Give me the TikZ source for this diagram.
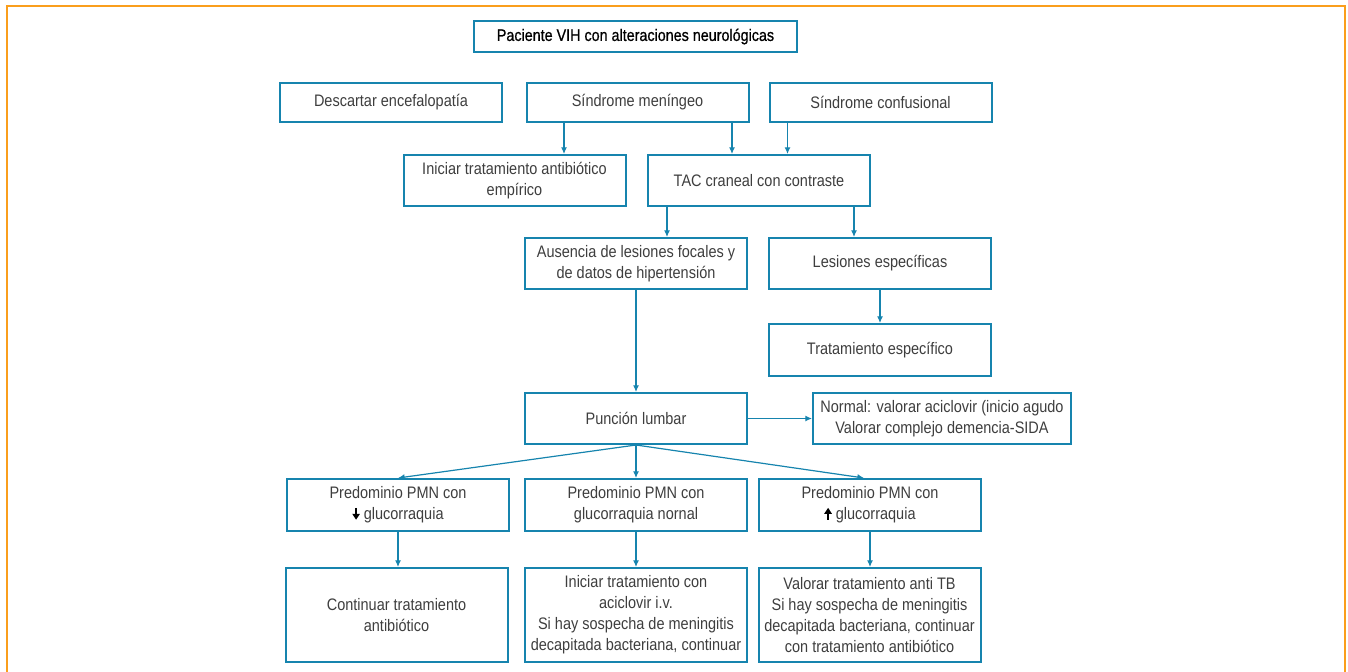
\documentclass[tikz,border=0pt]{standalone}
\usepackage{fontspec}
\setmainfont{Liberation Sans}[FakeStretch=0.87]
\newfontfamily\titfont{Liberation Sans}[FakeStretch=0.86,FakeBold=0.8]
\usepackage{xcolor}
\usepackage{tikz}
\usetikzlibrary{arrows.meta, calc}
\definecolor{marco}{RGB}{250,158,28}
\definecolor{azul}{RGB}{22,132,174}
\definecolor{texto}{RGB}{62,62,62}
\newcommand{\pxu}{0.75pt}
\newcommand{\bajaflecha}{\tikz[baseline=0pt]\draw[black, line width=1.1pt, -{Triangle[length=4.5pt,width=5.5pt]}] (0pt,9pt) -- (0pt,0pt);}
\newcommand{\subeflecha}{\tikz[baseline=0pt]\draw[black, line width=1.1pt, -{Triangle[length=4.5pt,width=5.5pt]}] (0pt,0pt) -- (0pt,9pt);}
\tikzstyle{caja} = [rectangle, draw=azul, line width=1.5pt, minimum width=222*\pxu, minimum height=51*\pxu, inner sep=0pt, align=center, text=texto, font=\fontsize{12.5}{15.7}\selectfont]
\tikzstyle{flecha} = [draw=azul, line width=0.9pt, -{Latex[length=5pt,width=4.5pt]}]

\begin{document}
\begin{tikzpicture}[x=0.75pt, y=-0.75pt]

    \useasboundingbox (0,0) rectangle (1348,671);
    \draw[marco, line width=2pt] (7,680) -- (7,6) -- (1345,6) -- (1345,680);

    % ===============================
    % 1. NODES
    % ===============================

    % Title
    \node[caja, text=black, minimum width=323*\pxu, minimum height=31*\pxu, font=\titfont\fontsize{12.5}{15.7}\selectfont] (tit) at (635.5, 36.5) {Paciente VIH con alteraciones neurológicas};

    % First row
    \node[caja, minimum height=39*\pxu] (desc) at (391, 102.5) {Descartar encefalopatía};
    \node[caja, minimum height=39*\pxu] (men) at (637.5, 102.5) {Síndrome meníngeo};
    \node[caja, minimum height=39*\pxu] (conf) at (880.5, 102.5) {Síndrome confusional};

    % Second row
    \node[caja] (iniab) at (514.5, 180.5) {Iniciar tratamiento antibiótico\\empírico};
    \node[caja] (tac) at (759, 180.5) {TAC craneal con contraste};

    % TAC results
    \node[caja] (aus) at (636, 263.5) {Ausencia de lesiones focales y\\de datos de hipertensión};
    \node[caja] (les) at (880, 263.5) {Lesiones específicas};
    \node[caja, minimum height=52*\pxu] (tesp) at (880, 350) {Tratamiento específico};

    % Lumbar puncture
    \node[caja] (pl) at (636, 418.5) {Punción lumbar};
    \node[caja, minimum width=258*\pxu] (norm) at (942, 418.5) {Normal: valorar aciclovir (inicio agudo\\Valorar complejo demencia-SIDA};

    % -------------------------------
    % PMN BRANCHES
    % -------------------------------
    \node[caja, minimum height=52*\pxu] (pmn1) at (398, 505) {Predominio PMN con\\\bajaflecha{} glucorraquia};
    \node[caja, minimum height=52*\pxu] (pmn2) at (636, 505) {Predominio PMN con\\glucorraquia nornal};
    \node[caja, minimum height=52*\pxu] (pmn3) at (870, 505) {Predominio PMN con\\\subeflecha{} glucorraquia};

    % -------------------------------
    % LEAF NODES (Bottom)
    % -------------------------------
    \node[caja, minimum height=94*\pxu] (cont) at (396.5, 615) {Continuar tratamiento\\antibiótico};
    \node[caja, minimum height=94*\pxu] (acic) at (636, 615) {Iniciar tratamiento con\\aciclovir i.v.\\Si hay sospecha de meningitis\\decapitada bacteriana, continuar};
    \node[caja, minimum height=94*\pxu] (antb) at (869.5, 615) {Valorar tratamiento anti TB\\Si hay sospecha de meningitis\\decapitada bacteriana, continuar\\con tratamiento antibiótico};

    % ===============================
    % 2. CONNECTIONS
    % ===============================

    % Syndromes to second row
    \draw[flecha] ($(men.south)+(-73.5,0)$) coordinate (a1) -- (a1 |- iniab.north);
    \draw[flecha] ($(men.south)+(94.5,0)$) coordinate (a2) -- (a2 |- tac.north);
    \draw[flecha] ($(conf.south)+(-93,0)$) coordinate (a3) -- (a3 |- tac.north);

    % TAC to results
    \draw[flecha] ($(tac.south)+(-92,0)$) coordinate (a4) -- (a4 |- aus.north);
    \draw[flecha] ($(tac.south)+(95,0)$) coordinate (a5) -- (a5 |- les.north);
    \draw[flecha] (les.south) -- (tesp.north);
    \draw[flecha] (aus.south) -- (pl.north);
    \draw[flecha] (pl.east) -- (norm.west);

    % Lumbar puncture to PMN boxes
    \draw[flecha] (pl.south) -- (pmn1.north);
    \draw[flecha] (pl.south) -- (pmn2.north);
    \draw[flecha] (pl.south) -- ($(pmn3.north)+(-6,0)$);

    % PMN boxes to leaves
    \draw[flecha] (pmn1.south) -- (pmn1.south |- cont.north);
    \draw[flecha] (pmn2.south) -- (acic.north);
    \draw[flecha] (pmn3.south) -- (pmn3.south |- antb.north);

\end{tikzpicture}
\end{document}
